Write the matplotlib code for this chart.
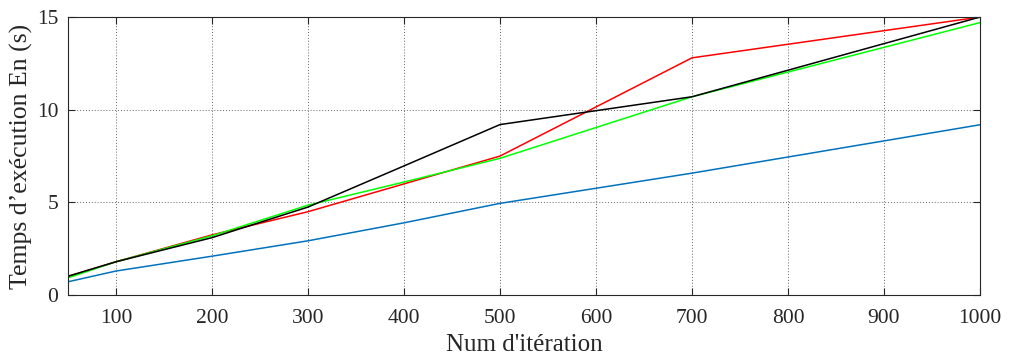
import matplotlib
matplotlib.use("Agg")
import matplotlib.pyplot as plt

# Execution time per number of iterations
iterations = [50, 100, 200, 300, 400, 500, 700, 1000]
time_red = [1.0, 1.8, 3.25, 4.5, 6.0, 7.5, 12.8, 15.0]
time_black = [1.02, 1.8, 3.1, 4.75, 6.97, 9.2, 10.7, 15.0]
time_green = [0.93, 1.8, 3.2, 4.85, 6.1, 7.38, 10.7, 14.7]
time_blue = [0.72, 1.3, 2.1, 2.93, 3.9, 4.95, 6.58, 9.19]

x_ticks = [100, 200, 300, 400, 500, 600, 700, 800, 900, 1000]
y_ticks = [0, 5, 10, 15]

plt.rcParams["font.family"] = ["Liberation Serif", "DejaVu Serif"]

fig = plt.figure(figsize=(10.15, 3.63), dpi=100)
ax = fig.add_axes([0.067, 0.187, 0.8985, 0.766])

ax.plot(iterations, time_blue, color="#0072bd", lw=1.1)
ax.plot(iterations, time_red, color="#ff0000", lw=1.1)
ax.plot(iterations, time_green, color="#00ff00", lw=1.1)
ax.plot(iterations, time_black, color="#000000", lw=1.1)

ax.set_xlim(50, 1000)
ax.set_ylim(0, 15)
ax.set_xticks(x_ticks)
ax.set_yticks(y_ticks)
ax.grid(True, color="#666666", linestyle=(0, (1, 2)), linewidth=0.7)
ax.tick_params(direction="in", top=True, right=True, length=5,
               labelsize=15.5, colors="#262626", pad=7)
ax.tick_params(axis="x", pad=10)
for s in ax.spines.values():
    s.set_color("#262626")
    s.set_linewidth(0.8)

ax.set_xlabel("Num d'itération", fontsize=18, color="#262626", labelpad=4)
ax.set_ylabel("Temps d’exécution En (s)", fontsize=18.5, color="#262626", labelpad=3)

fig.savefig("out.png", dpi=100)
